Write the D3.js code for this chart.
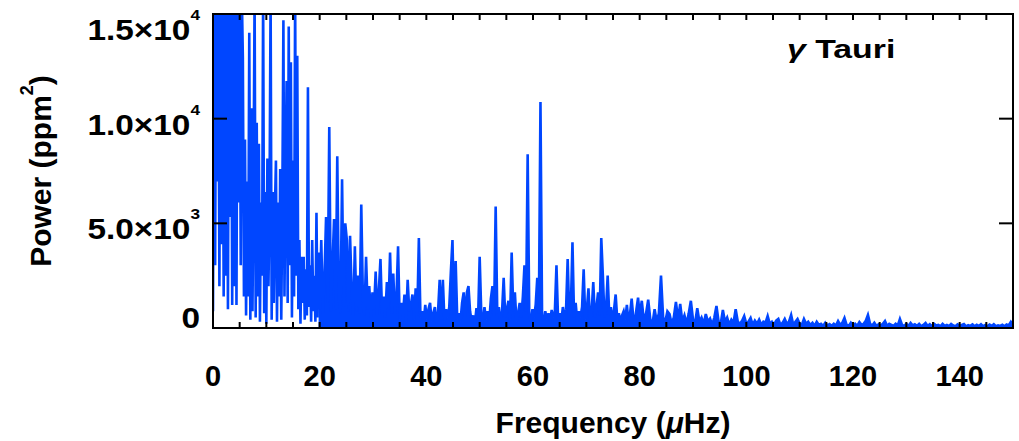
<!DOCTYPE html>
<html>
<head>
<meta charset="utf-8">
<script src="https://cdn.jsdelivr.net/npm/d3@7"></script>
<style>
    body { margin: 0; background: #fff; }
    text { font-family: "Liberation Sans", Arial, sans-serif; font-weight: bold; fill: #000; }
</style>
</head>
<body>
<svg id="chart" width="1019" height="441"></svg>
<script>
// Power spectrum of gamma Tauri, sampled on three frequency grids (uHz)
const lowStart = 0, lowStep = 0.2;
const lowPower = [
    800, 16000, 3000, 16000, 7000, 16000, 2000, 16000, 4000, 16000,
    1500, 16000, 2500, 16000, 900, 16000, 5300, 16000, 1100, 16000,
    2000, 16000, 1100, 16000, 6000, 16000, 3000, 16000, 12900, 1500,
    9000, 600, 7000, 1500, 14100, 400, 10500, 800, 7000, 16000,
    500, 9800, 1500, 8800, 300, 6000, 2500, 16000, 700, 6500,
    200, 8100, 2000, 6000, 16000, 400, 6500, 1200, 5500, 8000,
    300, 6000, 1500, 7600, 400, 6000, 14700, 1500, 7000, 11800,
    1200, 14400, 3000, 12700, 500, 8000, 1500, 16000, 2500, 13000,
    900, 4200, 200, 3400, 1200, 3400, 400, 2800, 600, 11500,
    1000, 3000, 300, 4200, 800, 2500, 300, 5500, 500, 3600
];

// Above 20 uHz the minima trace the top of the dense noise floor
const midStart = 20, midStep = 0.3;
const midPower = [
    900, 4200, 700, 2500, 5300, 1200, 9600, 800, 3000, 5200,
    900, 8200, 1500, 700, 7100, 1000, 5000, 4200, 800, 4400,
    1800, 600, 3900, 800, 2500, 700, 5900, 1500, 600, 3400,
    900, 2000, 500, 1700, 900, 2700, 600, 1800, 3300, 700,
    1500, 500, 2200, 900, 3600, 700, 2600, 700, 1500, 3900,
    400, 1200, 600, 1600, 300, 2300, 800, 1100, 1600, 400,
    1900, 600, 4300, 500, 800, 300, 1100, 400, 900, 1200,
    300, 700, 1000, 200, 800, 2300, 400, 2300, 300, 900,
    500, 1000, 2700, 4200, 600, 3200, 400, 700, 300, 1200,
    1700, 500, 1700, 2000, 800, 300, 600, 200, 950, 400,
    3400, 700, 300, 1000, 400, 800, 300, 1400, 2000, 600,
    5800, 700, 1000, 300, 800, 2400, 500, 900, 1300, 400,
    3600, 800, 1700, 300, 700, 1200, 500, 1500, 3000, 800,
    8300, 600, 300, 900, 500, 1100, 2400, 700, 10800, 600,
    300, 800, 400, 700, 300, 860, 500, 800, 3000, 400,
    700, 300, 1000, 500, 900, 3300, 600, 1000, 4100, 500,
    1200, 300, 800, 500, 1000, 2800, 400, 900, 1900, 300,
    800, 2200, 500, 1000, 1700, 600, 4300, 2500, 500, 900,
    2500, 600, 1000, 300, 900, 1600, 400, 700, 300, 600,
    800, 400, 1100, 300, 700, 1400, 500, 300, 900, 1450
];

const highStart = 80, highStep = 0.4;
const highPower = [
    600, 1300, 300, 700, 1350, 400, 200, 900, 300, 700,
    2500, 500, 300, 800, 670, 200, 500, 1250, 400, 1150,
    300, 600, 200, 700, 1300, 400, 250, 950, 300, 500,
    200, 670, 300, 450, 150, 500, 1050, 300, 200, 860,
    300, 500, 150, 400, 250, 900, 300, 200, 350, 570,
    200, 300, 480, 150, 350, 200, 400, 150, 300, 250,
    570, 200, 300, 150, 350, 430, 150, 250, 430, 200,
    300, 620, 150, 300, 430, 200, 150, 430, 200, 300,
    150, 250, 100, 300, 150, 200, 100, 250, 120, 190,
    100, 200, 120, 330, 150, 250, 480, 150, 100, 250,
    120, 200, 100, 280, 150, 200, 350, 620, 200, 120,
    250, 100, 180, 120, 200, 330, 100, 200, 150, 100,
    200, 120, 430, 150, 100, 200, 100, 240, 120, 180,
    100, 200, 80, 150, 240, 100, 180, 90, 200, 120,
    150, 80, 200, 100, 150, 90, 190, 120, 80, 170,
    100, 150, 190, 80, 140, 100, 170, 80, 150, 100,
    180, 90, 140, 80, 160, 100, 180, 90, 130, 100,
    150, 80, 170, 120, 290, 150
];

const xTicks = [0, 20, 40, 60, 80, 100, 120, 140];
const yTicks = [0, 5000, 10000, 15000];
const yTickMantissa = ["0", "5.0×10", "1.0×10", "1.5×10"];
const yTickExponent = ["", "3", "4", "4"];
const starName = "Tauri";

function toPoints(start, step, powers) {
    return powers.map((p, i) => ({ f: +(start + i * step).toFixed(2), p: p }));
}

const lowPoints = toPoints(lowStart, lowStep, lowPower);
const floorPoints = [
    lowPoints[lowPoints.length - 1],
    ...toPoints(midStart, midStep, midPower),
    ...toPoints(highStart, highStep, highPower)
];
const spectrum = [...lowPoints, ...floorPoints.slice(1)];

const svg = d3.select("#chart");
const margin = { top: 14, right: 6, bottom: 113, left: 213 };
const width = 1019 - margin.left - margin.right;
const height = 441 - margin.top - margin.bottom;
const blue = "#0046ff";

const x = d3.scaleLinear().domain([0, 150]).range([margin.left, margin.left + width]);
const y = d3.scaleLinear().domain([0, 15000]).range([margin.top + height, margin.top]);

svg.append("defs").append("clipPath")
    .attr("id", "plotClip")
    .append("rect")
    .attr("x", margin.left)
    .attr("y", margin.top)
    .attr("width", width)
    .attr("height", height);

const plot = svg.append("g").attr("clip-path", "url(#plotClip)");

// Dense noise floor above 20 uHz shows up as solid colour under the line
const area = d3.area()
    .x(d => x(d.f))
    .y0(y(0))
    .y1(d => y(d.p));

const line = d3.line()
    .x(d => x(d.f))
    .y(d => y(d.p));

plot.append("path")
    .datum(floorPoints)
    .attr("fill", blue)
    .attr("d", area);

plot.append("path")
    .datum(spectrum)
    .attr("fill", "none")
    .attr("stroke", blue)
    .attr("stroke-width", 2.6)
    .attr("d", line);

// Frame
svg.append("rect")
    .attr("x", margin.left)
    .attr("y", margin.top)
    .attr("width", width)
    .attr("height", height)
    .attr("fill", "none")
    .attr("stroke", "#000")
    .attr("stroke-width", 2);

// Ticks (inward on all four sides)
const minorX = d3.range(5, 150, 5);
svg.append("g").selectAll("line")
    .data(minorX)
    .enter()
    .append("line")
    .attr("x1", d => x(d)).attr("x2", d => x(d))
    .attr("y1", margin.top).attr("y2", margin.top + 6)
    .attr("stroke", "#000").attr("stroke-width", 2);
svg.append("g").selectAll("line")
    .data(minorX)
    .enter()
    .append("line")
    .attr("x1", d => x(d)).attr("x2", d => x(d))
    .attr("y1", margin.top + height).attr("y2", margin.top + height - 6)
    .attr("stroke", "#000").attr("stroke-width", 2);
svg.append("g").selectAll("line")
    .data(yTicks)
    .enter()
    .append("line")
    .attr("x1", margin.left).attr("x2", margin.left + 14)
    .attr("y1", d => y(d)).attr("y2", d => y(d))
    .attr("stroke", "#000").attr("stroke-width", 2);
svg.append("g").selectAll("line")
    .data(yTicks)
    .enter()
    .append("line")
    .attr("x1", margin.left + width).attr("x2", margin.left + width - 14)
    .attr("y1", d => y(d)).attr("y2", d => y(d))
    .attr("stroke", "#000").attr("stroke-width", 2);

// X tick labels
svg.append("g").selectAll("text")
    .data(xTicks)
    .enter()
    .append("text")
    .attr("x", d => x(d))
    .attr("y", margin.top + height + 58)
    .attr("text-anchor", "middle")
    .style("font-size", "29px")
    .text(d => d);

// Y tick labels, mantissa x 10 with a raised exponent
const yLabels = svg.append("g").selectAll("g")
    .data(yTicks)
    .enter()
    .append("g")
    .attr("transform", d => {
        const base = Math.min(Math.max(y(d) + 16, 40), margin.top + height);
        return `translate(${margin.left - 13},${base}) scale(1.15,1)`;
    });
yLabels.append("text")
    .attr("text-anchor", "end")
    .style("font-size", "29px")
    .each(function (d, i) {
        const t = d3.select(this);
        t.append("tspan").text(yTickMantissa[i]);
        if (yTickExponent[i])
            t.append("tspan").attr("dy", -20).style("font-size", "15px").text(yTickExponent[i]);
    });

// Axis titles
const xTitle = svg.append("text")
    .attr("x", margin.left + width / 2)
    .attr("y", 433)
    .attr("text-anchor", "middle")
    .style("font-size", "30px");
xTitle.append("tspan").text("Frequency (");
xTitle.append("tspan").style("font-style", "italic").text("μ");
xTitle.append("tspan").text("Hz)");

const yTitle = svg.append("text")
    .attr("transform", `translate(51,${margin.top + height / 2}) rotate(-90)`)
    .attr("text-anchor", "middle")
    .style("font-size", "30px");
yTitle.append("tspan").text("Power (ppm");
yTitle.append("tspan").attr("dy", -18).style("font-size", "18px").text("2");
yTitle.append("tspan").attr("dy", 18).text(")");

// Star name
const nameLabel = svg.append("g")
    .attr("transform", "translate(787,58) scale(1.3,1)")
    .append("text")
    .style("font-size", "26px");
nameLabel.append("tspan").style("font-style", "italic").text("γ");
nameLabel.append("tspan").text(" " + starName);
</script>
</body>
</html>
